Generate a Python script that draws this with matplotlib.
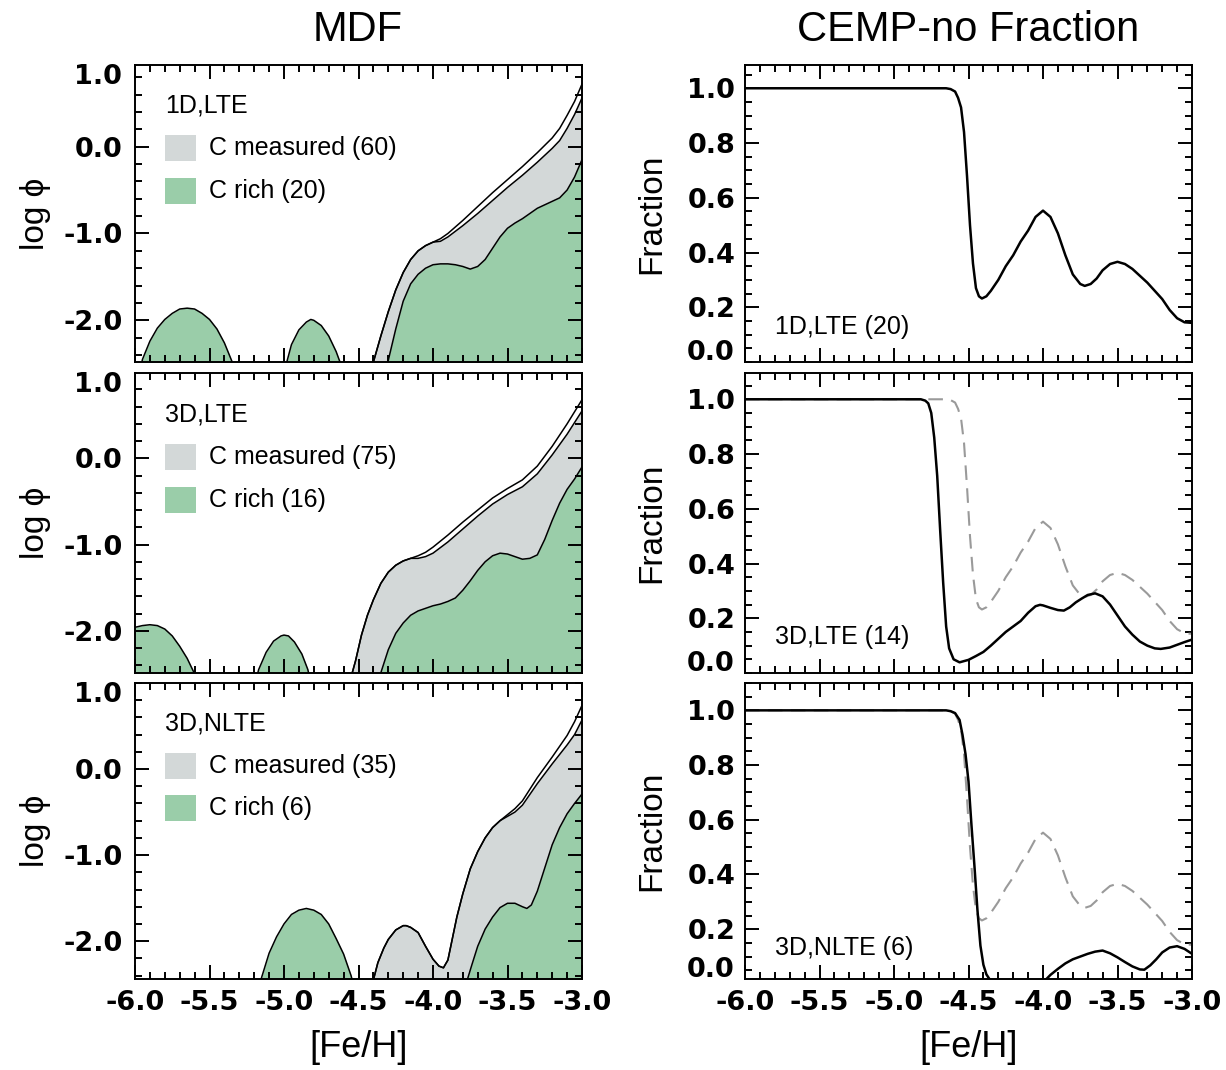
import matplotlib
matplotlib.use('Agg')
import matplotlib.pyplot as plt
from matplotlib.ticker import MultipleLocator, FormatStrFormatter
from matplotlib.patches import Rectangle
from matplotlib.transforms import offset_copy

plt.rcParams['font.family'] = ['Liberation Sans', 'DejaVu Sans']
plt.rcParams['axes.unicode_minus'] = False

GRAY = '#d3d8d8'
GREEN = '#9acda9'
DASH = '#9a9a9a'
TICKFONT = 'DejaVu Sans'
TICKSIZE = 19.5

# ---- MDF, 1D LTE ----
x1_tot = [-4.42, -4.40, -4.35, -4.30, -4.25, -4.20, -4.15, -4.10, -4.05, -4.00, -3.95, -3.90,
          -3.80, -3.70, -3.60, -3.50, -3.40, -3.30, -3.20, -3.15, -3.10, -3.05, -3.00]
y1_tot = [-2.62, -2.48, -2.18, -1.90, -1.65, -1.45, -1.30, -1.20, -1.14, -1.10, -1.06, -1.00,
          -0.85, -0.69, -0.53, -0.38, -0.23, -0.07, 0.10, 0.21, 0.36, 0.52, 0.72]
y1_meas = [-2.62, -2.48, -2.18, -1.90, -1.65, -1.45, -1.30, -1.20, -1.14, -1.10, -1.09, -1.04,
           -0.91, -0.77, -0.62, -0.47, -0.33, -0.18, -0.02, 0.07, 0.21, 0.37, 0.56]
x1_rich = [-4.32, -4.30, -4.25, -4.20, -4.15, -4.10, -4.05, -4.00, -3.95, -3.90, -3.85, -3.80,
           -3.75, -3.70, -3.65, -3.60, -3.55, -3.50, -3.45, -3.40, -3.35, -3.30, -3.25, -3.20,
           -3.15, -3.10, -3.05, -3.00]
y1_rich = [-2.60, -2.46, -2.10, -1.78, -1.58, -1.47, -1.40, -1.36, -1.35, -1.35, -1.36, -1.38,
           -1.41, -1.38, -1.30, -1.17, -1.04, -0.94, -0.88, -0.83, -0.77, -0.71, -0.67, -0.63,
           -0.59, -0.50, -0.35, -0.15]
x1_bump_a = [-6.00, -5.95, -5.90, -5.85, -5.80, -5.75, -5.70, -5.65, -5.60, -5.55, -5.50, -5.45,
             -5.40, -5.35, -5.33]
y1_bump_a = [-2.85, -2.45, -2.24, -2.09, -1.99, -1.92, -1.87, -1.86, -1.87, -1.92, -1.99, -2.10,
             -2.26, -2.47, -2.60]
x1_bump_b = [-5.00, -4.95, -4.90, -4.85, -4.82, -4.80, -4.75, -4.70, -4.65, -4.62, -4.60]
y1_bump_b = [-2.60, -2.28, -2.11, -2.02, -1.99, -2.00, -2.06, -2.18, -2.36, -2.50, -2.62]

# ---- MDF, 3D LTE ----
x2_tot = [-4.56, -4.52, -4.48, -4.44, -4.40, -4.35, -4.30, -4.25, -4.20, -4.15, -4.10, -4.05,
          -4.00, -3.90, -3.80, -3.70, -3.60, -3.50, -3.40, -3.30, -3.20, -3.10, -3.00]
y2_tot = [-2.60, -2.35, -2.05, -1.82, -1.64, -1.45, -1.32, -1.24, -1.19, -1.16, -1.13, -1.09,
          -1.03, -0.89, -0.74, -0.60, -0.46, -0.35, -0.25, -0.09, 0.14, 0.40, 0.68]
y2_meas = [-2.60, -2.35, -2.05, -1.82, -1.64, -1.45, -1.32, -1.24, -1.19, -1.16, -1.16, -1.14,
           -1.10, -0.97, -0.82, -0.67, -0.53, -0.42, -0.33, -0.18, 0.04, 0.28, 0.55]
x2_rich = [-4.37, -4.345, -4.30, -4.25, -4.20, -4.15, -4.10, -4.05, -4.00, -3.95, -3.90, -3.85,
           -3.80, -3.75, -3.70, -3.65, -3.60, -3.55, -3.50, -3.45, -3.40, -3.35, -3.30, -3.25,
           -3.20, -3.15, -3.10, -3.05, -3.00]
y2_rich = [-2.60, -2.46, -2.22, -2.03, -1.91, -1.82, -1.77, -1.74, -1.71, -1.69, -1.66, -1.62,
           -1.53, -1.42, -1.30, -1.20, -1.13, -1.10, -1.11, -1.14, -1.17, -1.16, -1.12, -0.94,
           -0.72, -0.52, -0.36, -0.24, -0.10]
x2_bump_a = [-6.00, -5.95, -5.90, -5.85, -5.80, -5.75, -5.70, -5.65, -5.60, -5.57]
y2_bump_a = [-1.96, -1.94, -1.93, -1.94, -1.98, -2.06, -2.18, -2.32, -2.50, -2.62]
x2_bump_b = [-5.20, -5.17, -5.12, -5.07, -5.02, -5.00, -4.97, -4.93, -4.88, -4.84, -4.82]
y2_bump_b = [-2.65, -2.45, -2.25, -2.12, -2.06, -2.05, -2.06, -2.13, -2.27, -2.45, -2.60]

# ---- MDF, 3D NLTE ----
x3_tot = [-4.43, -4.40, -4.37, -4.33, -4.30, -4.25, -4.20, -4.18, -4.15, -4.10, -4.05, -4.00,
          -3.96, -3.93, -3.90, -3.87, -3.84, -3.80, -3.75, -3.70, -3.65, -3.60, -3.55, -3.50,
          -3.45, -3.40, -3.30, -3.20, -3.10, -3.05, -3.00]
y3_tot = [-2.65, -2.45, -2.25, -2.08, -1.98, -1.87, -1.82, -1.82, -1.84, -1.90, -2.06, -2.21,
          -2.29, -2.31, -2.22, -1.97, -1.72, -1.45, -1.16, -0.96, -0.80, -0.68, -0.60, -0.53,
          -0.46, -0.37, -0.10, 0.14, 0.39, 0.55, 0.74]
y3_meas = [-2.65, -2.45, -2.25, -2.08, -1.98, -1.87, -1.82, -1.82, -1.84, -1.90, -2.06, -2.21,
           -2.29, -2.31, -2.22, -1.97, -1.72, -1.45, -1.16, -0.96, -0.80, -0.68, -0.60, -0.55,
           -0.50, -0.42, -0.17, 0.06, 0.28, 0.40, 0.57]
x3_rich = [-3.80, -3.77, -3.74, -3.70, -3.65, -3.60, -3.55, -3.50, -3.45, -3.40, -3.37, -3.34,
           -3.30, -3.25, -3.20, -3.15, -3.10, -3.05, -3.00]
y3_rich = [-2.62, -2.45, -2.28, -2.06, -1.86, -1.72, -1.61, -1.56, -1.56, -1.60, -1.62, -1.58,
           -1.42, -1.15, -0.88, -0.68, -0.52, -0.40, -0.29]
x3_bump = [-5.18, -5.15, -5.10, -5.05, -5.00, -4.95, -4.90, -4.85, -4.80, -4.75, -4.70, -4.65,
           -4.60, -4.55, -4.52]
y3_bump = [-2.62, -2.42, -2.14, -1.95, -1.80, -1.69, -1.64, -1.62, -1.64, -1.69, -1.80, -1.97,
           -2.15, -2.40, -2.60]

# ---- CEMP-no fraction ----
xf_1d = [-6.00, -4.65, -4.62, -4.59, -4.57, -4.55, -4.53, -4.51, -4.49, -4.47, -4.45, -4.43,
         -4.41, -4.38, -4.35, -4.30, -4.25, -4.20, -4.15, -4.10, -4.05, -4.00, -3.95, -3.90,
         -3.85, -3.80, -3.75, -3.72, -3.68, -3.64, -3.60, -3.55, -3.50, -3.45, -3.40, -3.35,
         -3.30, -3.25, -3.20, -3.15, -3.10, -3.05, -3.00]
yf_1d = [1.00, 1.00, 0.997, 0.988, 0.965, 0.93, 0.84, 0.68, 0.50, 0.36, 0.27, 0.24,
         0.232, 0.24, 0.26, 0.30, 0.35, 0.39, 0.44, 0.48, 0.53, 0.553, 0.53, 0.47,
         0.39, 0.32, 0.285, 0.278, 0.285, 0.305, 0.335, 0.358, 0.366, 0.358, 0.34, 0.315,
         0.29, 0.26, 0.23, 0.19, 0.16, 0.145, 0.143]
xf_3d = [-6.00, -4.82, -4.79, -4.77, -4.75, -4.73, -4.71, -4.69, -4.67, -4.65, -4.63, -4.60,
         -4.56, -4.50, -4.45, -4.40, -4.35, -4.30, -4.25, -4.20, -4.15, -4.10, -4.05, -4.02,
         -4.00, -3.95, -3.90, -3.86, -3.82, -3.78, -3.74, -3.70, -3.65, -3.60, -3.55, -3.50,
         -3.45, -3.40, -3.35, -3.30, -3.25, -3.21, -3.15, -3.10, -3.05, -3.00]
yf_3d = [1.00, 1.00, 0.995, 0.985, 0.95, 0.86, 0.72, 0.52, 0.33, 0.17, 0.09, 0.05,
         0.039, 0.048, 0.062, 0.077, 0.10, 0.125, 0.15, 0.17, 0.19, 0.22, 0.244, 0.249,
         0.247, 0.238, 0.23, 0.228, 0.24, 0.258, 0.272, 0.285, 0.291, 0.28, 0.25, 0.21,
         0.17, 0.14, 0.115, 0.10, 0.09, 0.088, 0.093, 0.103, 0.113, 0.122]
xf_nlte = [-6.00, -4.65, -4.62, -4.59, -4.56, -4.54, -4.52, -4.50, -4.48, -4.46, -4.44, -4.42,
           -4.40, -4.38, -4.35, -4.30, -4.05, -4.00, -3.95, -3.90, -3.85, -3.80, -3.75, -3.70,
           -3.65, -3.60, -3.55, -3.50, -3.45, -3.40, -3.35, -3.32, -3.28, -3.24, -3.20, -3.15,
           -3.10, -3.05, -3.00]
yf_nlte = [1.00, 1.00, 0.997, 0.99, 0.965, 0.91, 0.84, 0.74, 0.58, 0.43, 0.27, 0.14,
           0.07, 0.035, 0.01, 0.00, 0.00, 0.005, 0.033, 0.055, 0.075, 0.09, 0.10, 0.11,
           0.118, 0.122, 0.112, 0.097, 0.08, 0.064, 0.053, 0.052, 0.068, 0.09, 0.115, 0.133,
           0.138, 0.128, 0.11]

mdf_panels = [
    dict(tot=(x1_tot, y1_tot), meas=(x1_tot, y1_meas), rich=(x1_rich, y1_rich),
         bumps=[(x1_bump_a, y1_bump_a), (x1_bump_b, y1_bump_b)],
         label='1D,LTE', n_meas=60, n_rich=20, ylim=(-2.48, 0.94)),
    dict(tot=(x2_tot, y2_tot), meas=(x2_tot, y2_meas), rich=(x2_rich, y2_rich),
         bumps=[(x2_bump_a, y2_bump_a), (x2_bump_b, y2_bump_b)],
         label='3D,LTE', n_meas=75, n_rich=16, ylim=(-2.49, 0.99)),
    dict(tot=(x3_tot, y3_tot), meas=(x3_tot, y3_meas), rich=(x3_rich, y3_rich),
         bumps=[(x3_bump, y3_bump)],
         label='3D,NLTE', n_meas=35, n_rich=6, ylim=(-2.44, 1.0)),
]
frac_panels = [
    dict(solid=(xf_1d, yf_1d), dashed=None, label='1D,LTE (20)', ty=0.118, ylim=(0.0, 1.085)),
    dict(solid=(xf_3d, yf_3d), dashed=(xf_1d, yf_1d), label='3D,LTE (14)', ty=0.12,
         ylim=(0.0, 1.096)),
    dict(solid=(xf_nlte, yf_nlte), dashed=(xf_1d, yf_1d), label='3D,NLTE (6)', ty=0.105,
         ylim=(0.018, 1.10)),
]

W, H = 1226, 1070
rows = [(65, 362), (373, 673), (683, 979)]
fig = plt.figure(figsize=(W / 100, H / 100), dpi=100)


def make_axes(x0, x1, y0, y1):
    return fig.add_axes([x0 / W, 1 - y1 / H, (x1 - x0) / W, (y1 - y0) / H])


def style(ax, bottom_row, ymajor, yminor):
    ax.set_xlim(-6.0, -3.0)
    ax.xaxis.set_major_locator(MultipleLocator(0.5))
    ax.xaxis.set_minor_locator(MultipleLocator(0.1))
    ax.yaxis.set_major_locator(MultipleLocator(ymajor))
    ax.yaxis.set_minor_locator(MultipleLocator(yminor))
    ax.xaxis.set_major_formatter(FormatStrFormatter('%.1f'))
    ax.yaxis.set_major_formatter(FormatStrFormatter('%.1f'))
    ax.tick_params(which='both', direction='in', top=True, right=True, width=1.4,
                   labelsize=TICKSIZE, labelfontfamily=TICKFONT)
    ax.tick_params(which='major', length=10)
    ax.tick_params(which='minor', length=5)
    ax.tick_params(axis='x', pad=8, labelbottom=bottom_row)
    for lab in ax.get_xticklabels() + ax.get_yticklabels():
        lab.set_fontweight('bold')
    for s in ax.spines.values():
        s.set_linewidth(1.4)


for i, p in enumerate(mdf_panels):
    y0, y1 = rows[i]
    ax = make_axes(135, 582, y0, y1)
    ax.fill_between(*p['meas'], -3, color=GRAY, lw=0)
    ax.fill_between(*p['rich'], -3, color=GREEN, lw=0)
    for bx, by in p['bumps']:
        ax.fill_between(bx, by, -3, color=GREEN, lw=0)
        ax.plot(bx, by, color='k', lw=1.1)
    ax.plot(*p['tot'], color='k', lw=1.1)
    ax.plot(*p['meas'], color='k', lw=1.1)
    ax.plot(*p['rich'], color='k', lw=1.1)
    ax.set_ylim(*p['ylim'])
    ax.set_yticks([-2.0, -1.0, 0.0])
    style(ax, i == 2, 1.0, 0.2)
    ax.set_yticks([-2.0, -1.0, 0.0])
    ax.tick_params(axis='y', pad=9)
    # top label sits just inside the frame
    tr = offset_copy(ax.transAxes, fig=fig, x=-13, y=-19, units='dots')
    ax.text(0, 1, '1.0', transform=tr, ha='right', va='baseline', fontsize=TICKSIZE,
            family=TICKFONT, fontweight='bold')

    ax.text(0.067, 0.862, p['label'], transform=ax.transAxes, va='center', fontsize=18)
    ax.add_patch(Rectangle((0.067, 0.677), 0.069, 0.088, transform=ax.transAxes,
                           fc=GRAY, ec='none'))
    ax.add_patch(Rectangle((0.067, 0.533), 0.069, 0.088, transform=ax.transAxes,
                           fc=GREEN, ec='none'))
    ax.text(0.165, 0.721, 'C measured (%d)' % p['n_meas'], transform=ax.transAxes,
            va='center', fontsize=18)
    ax.text(0.165, 0.577, 'C rich (%d)' % p['n_rich'], transform=ax.transAxes,
            va='center', fontsize=18)

    ax.set_ylabel('log ϕ', fontsize=24, va='center')
    ax.yaxis.set_label_coords(-0.223, 0.5)
    if i == 2:
        ax.set_xlabel('[Fe/H]', fontsize=26, va='center')
        ax.xaxis.set_label_coords(0.5, -0.233)

for i, p in enumerate(frac_panels):
    y0, y1 = rows[i]
    ax = make_axes(745, 1192, y0, y1)
    if p['dashed'] is not None:
        ax.plot(*p['dashed'], color=DASH, lw=1.5, dashes=(7, 4))
    ax.plot(*p['solid'], color='k', lw=1.8)
    ax.set_ylim(*p['ylim'])
    ax.set_yticks([0.2, 0.4, 0.6, 0.8, 1.0])
    style(ax, i == 2, 0.2, 0.05)
    ax.set_yticks([0.2, 0.4, 0.6, 0.8, 1.0])
    ax.tick_params(axis='y', pad=7)
    tr = offset_copy(ax.transAxes, fig=fig, x=-10, y=2, units='dots')
    ax.text(0, 0, '0.0', transform=tr, ha='right', va='baseline', fontsize=TICKSIZE,
            family=TICKFONT, fontweight='bold')
    ax.text(0.067, p['ty'], p['label'], transform=ax.transAxes, va='center', fontsize=18)
    ax.set_ylabel('Fraction', fontsize=24, va='center')
    ax.yaxis.set_label_coords(-0.208, 0.5)
    if i == 2:
        ax.set_xlabel('[Fe/H]', fontsize=26, va='center')
        ax.xaxis.set_label_coords(0.5, -0.233)

fig.text(358 / W, 1 - 30 / H, 'MDF', ha='center', va='center', fontsize=30)
fig.text(968 / W, 1 - 30 / H, 'CEMP-no Fraction', ha='center', va='center', fontsize=30)

fig.savefig('out.png', dpi=100)
